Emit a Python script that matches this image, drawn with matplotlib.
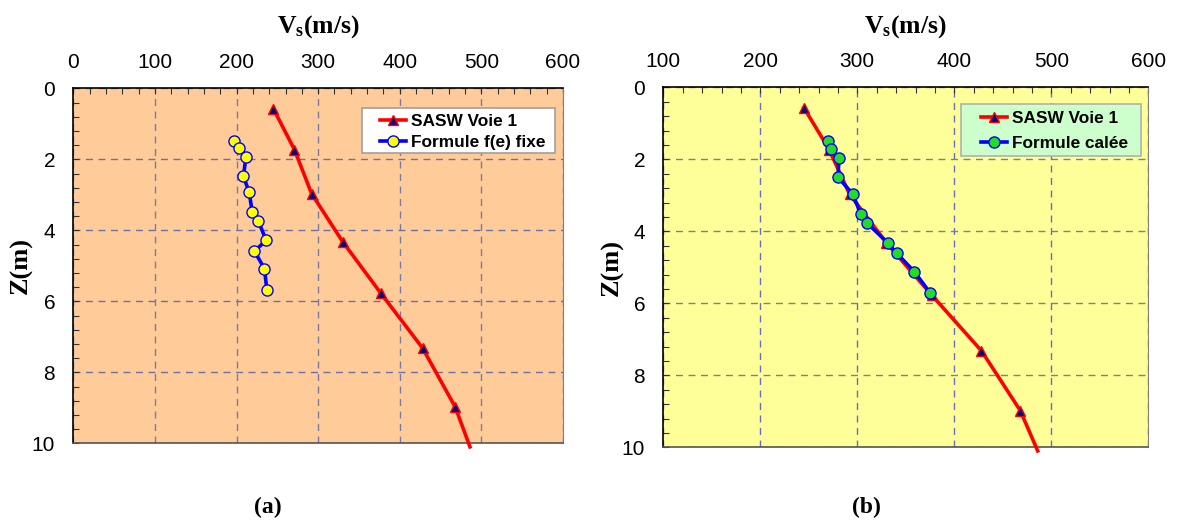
import numpy as np
import matplotlib
matplotlib.use("Agg")
import matplotlib.pyplot as plt
from matplotlib.ticker import MultipleLocator
from matplotlib.patches import Rectangle
from matplotlib.legend_handler import HandlerLine2D

plt.rcParams['font.family'] = ['Liberation Sans', 'DejaVu Sans']
plt.rcParams['mathtext.fontset'] = 'custom'
plt.rcParams['mathtext.rm'] = 'Liberation Serif:bold'
plt.rcParams['mathtext.it'] = 'Liberation Serif:bold'
plt.rcParams['mathtext.bf'] = 'Liberation Serif:bold'

# SASW profile (same in both panels)
sasw_vs = [245, 271, 292, 330, 377, 428, 468, 486]
sasw_z = [0.57, 1.73, 2.97, 4.32, 5.78, 7.32, 8.98, 10.1]

# panel (a): formula with fixed f(e)
fixe_vs = [197.5, 203.3, 211.5, 208.5, 215.5, 219.2, 226.5, 236.3, 222.0, 234.2, 237.2]
fixe_z = [1.48, 1.69, 1.93, 2.48, 2.93, 3.48, 3.73, 4.28, 4.59, 5.08, 5.69]

# panel (b): calibrated formula
calee_vs = [270.1, 272.9, 281.1, 280.1, 295.2, 303.4, 309.7, 331.3, 340.6, 358.8, 375.3]
calee_z = [1.48, 1.70, 1.95, 2.50, 2.96, 3.51, 3.76, 4.32, 4.61, 5.12, 5.72]

W, H = 1178, 520
fig = plt.figure(figsize=(W / 100, H / 100), dpi=100)


def px_axes(x0, y0, x1, y1):
    return fig.add_axes([x0 / W, 1 - y1 / H, (x1 - x0) / W, (y1 - y0) / H])


def px2ax(ax, x, y):
    # figure pixel (from top-left) -> axes fraction
    b = ax.get_position()
    return ((x / W - b.x0) / b.width, (1 - y / H - b.y0) / b.height)


def style_axes(ax, bg, xmin, vgrid, hgrid):
    ax.set_facecolor(bg)
    ax.set_xlim(xmin, 600)
    ax.set_ylim(10, 0)
    ax.xaxis.tick_top()
    ax.xaxis.set_major_locator(MultipleLocator(100))
    ax.xaxis.set_minor_locator(MultipleLocator(20))
    ax.yaxis.set_major_locator(MultipleLocator(2))
    ax.yaxis.set_minor_locator(MultipleLocator(0.4))
    ax.tick_params(axis='both', which='both', direction='in', length=4,
                   width=0.8, color='#333333', labelsize=15)
    ax.tick_params(axis='x', which='major', pad=12)
    ax.tick_params(axis='y', which='major', pad=13)
    ax.grid(True, axis='x', which='major', linestyle=(0, (5, 4)), color=vgrid, lw=1)
    ax.grid(True, axis='y', which='major', linestyle=(0, (5, 4)), color=hgrid, lw=1)
    ax.set_axisbelow(True)
    for s in ['top', 'left']:
        ax.spines[s].set_color('black')
        ax.spines[s].set_linewidth(1.2)
    ax.spines['right'].set_color('#808080')
    ax.spines['bottom'].set_color('#555555')
    ax.spines['bottom'].set_linewidth(1.2)


def legend_box(ax, x0, y0, x1, y1, fc, ec, hx, yc, spacing):
    (ax0, ay1), (ax1, ay0) = px2ax(ax, x0, y0), px2ax(ax, x1, y1)
    ax.add_patch(Rectangle((ax0, ay0), ax1 - ax0, ay1 - ay0, transform=ax.transAxes,
                           facecolor=fc, edgecolor=ec, lw=1.2, zorder=6))
    leg = ax.legend(loc='center left', bbox_to_anchor=px2ax(ax, hx, yc),
                    borderaxespad=0, borderpad=0, frameon=False,
                    prop={'weight': 'bold', 'size': 12.4}, handlelength=1.5,
                    handletextpad=0.3, labelspacing=spacing,
                    handler_map={plt.Line2D: HandlerLine2D(numpoints=1)})
    leg.set_zorder(7)
    return leg


# ---- (a)
ax1 = px_axes(73.3, 88.3, 563, 443.3)
style_axes(ax1, '#FFCC99', 0, '#7a7aa8', '#6f6fa6')
ax1.plot(sasw_vs, sasw_z, color='red', lw=2.6, marker='^', ms=7,
         mfc='#000080', mec='red', mew=1, markevery=slice(0, -1),
         clip_on=False, zorder=3, label='SASW Voie 1')
ax1.plot(fixe_vs, fixe_z, color='#0000ff', lw=2.6, marker='o', ms=8,
         mfc='#ffff00', mec='#0000ff', mew=1, zorder=4, label='Formule f(e) fixe')
legend_box(ax1, 362.3, 108.3, 555, 153.3, 'white', '#a0a0a0', 380, 131.9, 0.36)

# ---- (b)
ax2 = px_axes(663.3, 87.3, 1148.3, 447.3)
style_axes(ax2, '#FFFF99', 100, '#6b6bc0', '#808080')
ax2.plot(sasw_vs, sasw_z, color='red', lw=2.6, marker='^', ms=7,
         mfc='#000080', mec='red', mew=1, markevery=slice(0, -1),
         clip_on=False, zorder=3, label='SASW Voie 1')
ax2.plot(calee_vs, calee_z, color='#0000ff', lw=2.6, marker='o', ms=8,
         mfc='#22dd22', mec='#0000ff', mew=1, zorder=4, label='Formule calée')
legend_box(ax2, 960.7, 104.3, 1141, 156, '#CCFFCC', '#b0b0b0', 980.7, 131, 0.6)

# axis titles
for ax, ycx in [(ax1, 21), (ax2, 612)]:
    b = ax.get_position()
    fig.text(b.x0 + b.width / 2, 1 - 32.5 / H, r'$\mathrm{V_s(m/s)}$',
             ha='center', va='baseline', fontsize=18.5)
    fig.text(ycx / W, b.y0 + b.height / 2, 'Z(m)', rotation=90, ha='center',
             va='center', fontsize=19, family='Liberation Serif', weight='bold')

fig.text(268 / W, 1 - 507 / H, '(a)', ha='center', va='center', fontsize=17,
         family='Liberation Serif', weight='bold')
fig.text(866 / W, 1 - 507 / H, '(b)', ha='center', va='center', fontsize=17,
         family='Liberation Serif', weight='bold')

fig.savefig('out.png', dpi=100, facecolor='white')
